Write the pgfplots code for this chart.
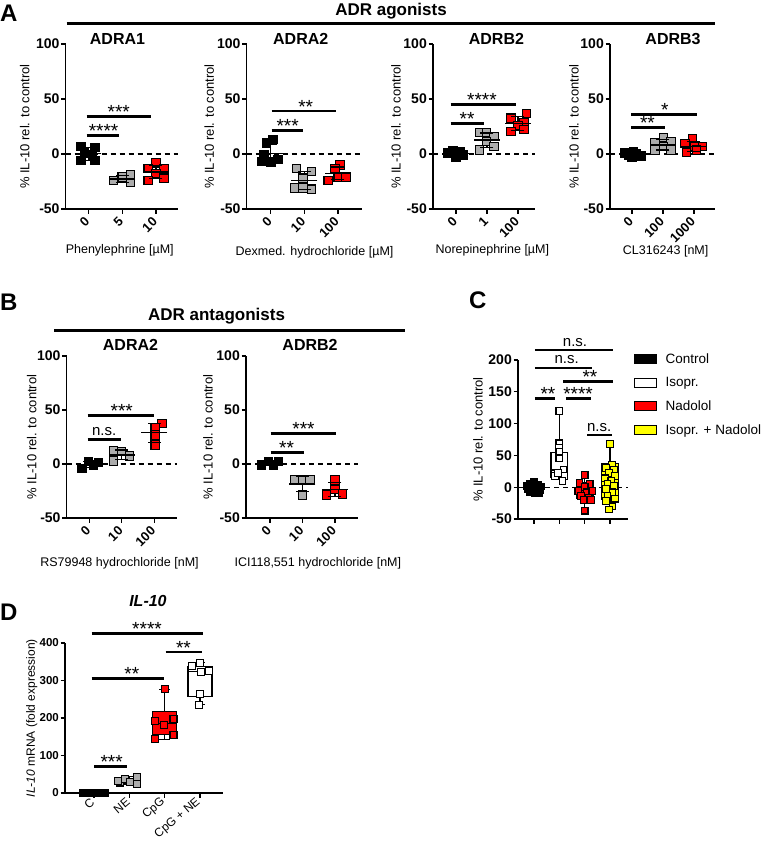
\documentclass[border=0pt]{standalone}
\usepackage{fontspec}
\setmainfont{Liberation Sans}
\usepackage{pgfplots}
\pgfplotsset{compat=1.18}
\usepgfplotslibrary{statistics}
\definecolor{gfill}{RGB}{172,172,172}
\definecolor{rfill}{RGB}{255,0,0}
\definecolor{yfill}{RGB}{255,255,0}
\newcommand{\fs}[1]{\fontsize{#1}{#1}\selectfont}
\newcommand{\sigbar}[5]{%
  \draw[line width=2.8pt] (axis cs:#1,#3) -- (axis cs:#2,#3);
  \node[anchor=base, font=\fs{19}, yshift=-2pt, inner sep=0pt] at (axis cs:#4,#3) {#5};}
\newcommand{\nsbar}[4]{%
  \draw[line width=2.8pt] (axis cs:#1,#3) -- (axis cs:#2,#3);
  \node[anchor=base, font=\fs{15}, yshift=4pt, inner sep=0pt] at (axis cs:#4,#3) {n.s.};}
\pgfplotsset{
  gp/.style={
    scale only axis, clip=false,
    axis lines=left,
    axis line style={-, line width=1.4pt},
    tick style={black, line width=1.3pt},
    tick align=outside, major tick length=4.5pt,
    /pgf/number format/assume math mode=true,
    yticklabel style={font=\fs{14}\bfseries, inner sep=1.5pt},
    ylabel style={font=\fs{13}, anchor=center},
    xlabel style={font=\fs{12.5}, anchor=center},
    title style={font=\fs{16}\bfseries, anchor=center},
  },
  gpA/.style={gp, ymin=-50, ymax=100, ytick={-50,0,50,100}, xtick={0,1,2},
    xticklabel style={font=\fs{13}\bfseries, rotate=45, anchor=east, inner sep=1.5pt},
    xticklabel shift=5pt},
  pts/.style={only marks, mark=square*, mark size=4.2pt, mark options={solid, line width=1.1pt, draw=black, fill=#1}},
  mean/.style={only marks, mark=-, mark size=13pt, mark options={solid, line width=1.5pt, draw=black}},
  sd/.style={black, line width=1.3pt, mark=-, mark size=6.5pt, mark options={solid}},
  zero/.style={black, line width=1.3pt, dash pattern=on 5pt off 4pt},
}
\begin{document}
\begin{tikzpicture}
\path[use as bounding box] (0pt,0pt) rectangle (762pt,-842pt);

% ---------------- Panel A ----------------
\node[anchor=base west, font=\fs{24}\bfseries, inner sep=0pt] at (0pt,-22pt) {A};
\node[anchor=base, font=\fs{17}\bfseries, inner sep=0pt] at (391pt,-16pt) {ADR agonists};
\draw[line width=3pt] (66.7pt,-24pt) -- (715pt,-24pt);

% A1
\begin{axis}[gpA, at={(65.7pt,-209pt)}, width=112.6pt, height=165pt,
  xmin=-0.67, xmax=2.66, xticklabels={0,5,10},
  title={ADRA1}, title style={at={(axis description cs:0.46,1)}, yshift=-1pt},
  xlabel={Phenylephrine [µM]}, xlabel style={at={(axis description cs:0.48,0)}, yshift=-41pt},
  ylabel={\% IL-10 rel. to control}, ylabel style={at={(axis description cs:-0.364,0.5)}}]
\addplot[zero] coordinates {(-0.67,0) (2.66,0)};
\addplot[pts=black] coordinates {(-0.22,7) (0.2,6) (-0.12,1) (0.12,-1) (-0.22,-6) (0.2,-6)};
\addplot[pts=gfill] coordinates {(0.74,-24) (1.0,-21) (1.24,-19) (1.24,-26)};
\addplot[pts=rfill] coordinates {(2.0,-8) (1.77,-13) (2.24,-13) (2.0,-18) (1.77,-24) (2.24,-22)};
\addplot[sd] coordinates {(0,-5.6) (0,6.2)};
\addplot[mean] coordinates {(0,0.3)};
\addplot[sd] coordinates {(1,-25.6) (1,-19.4)};
\addplot[mean] coordinates {(1,-22.5)};
\addplot[sd] coordinates {(2,-22.3) (2,-10.3)};
\addplot[mean] coordinates {(2,-16.3)};
\sigbar{-0.05}{0.9}{17}{0.45}{****}
\sigbar{-0.05}{1.85}{34}{0.9}{***}
\end{axis}

% A2
\begin{axis}[gpA, at={(246.7pt,-209pt)}, width=115pt, height=165pt,
  xmin=-0.72, xmax=2.71, xticklabels={0,10,100},
  title={ADRA2}, title style={at={(axis description cs:0.47,1)}, yshift=-1pt},
  xlabel={Dexmed. hydrochloride [µM]}, xlabel style={at={(axis description cs:0.59,0)}, yshift=-43pt},
  ylabel={\% IL-10 rel. to control}, ylabel style={at={(axis description cs:-0.325,0.5)}}]
\addplot[zero] coordinates {(-0.72,0) (2.71,0)};
\addplot[pts=black] coordinates {(0.07,13) (-0.13,10) (-0.2,-1) (0.22,-5) (-0.28,-7) (0.0,-7.5)};
\addplot[pts=gfill] coordinates {(0.77,-13) (1.21,-16) (0.96,-22) (0.72,-31) (0.96,-31) (1.21,-32)};
\addplot[pts=rfill] coordinates {(2.06,-10) (1.91,-13) (1.71,-24) (2.01,-21) (2.24,-21)};
\addplot[sd] coordinates {(0,-8.1) (0,8.9)};
\addplot[mean] coordinates {(0,0.4)};
\addplot[sd] coordinates {(1,-32.2) (1,-16.2)};
\addplot[mean] coordinates {(1,-24.2)};
\addplot[sd] coordinates {(2,-23.5) (2,-11.9)};
\addplot[mean] coordinates {(2,-17.7)};
\sigbar{0.02}{0.96}{21}{0.5}{***}
\sigbar{0.02}{1.95}{39}{1.04}{**}
\end{axis}

% A3
\begin{axis}[gpA, at={(433pt,-209pt)}, width=102.3pt, height=165pt,
  xmin=-0.74, xmax=2.56, xticklabels={0,1,100},
  title={ADRB2}, title style={at={(axis description cs:0.62,1)}, yshift=-1pt},
  xlabel={Norepinephrine [µM]}, xlabel style={at={(axis description cs:0.58,0)}, yshift=-41pt},
  ylabel={\% IL-10 rel. to control}, ylabel style={at={(axis description cs:-0.363,0.5)}}]
\addplot[zero] coordinates {(-0.74,0) (2.56,0)};
\addplot[pts=black] coordinates {(-0.25,1) (-0.1,3) (0.05,0) (0.15,2) (0.25,-1) (0,-3)};
\addplot[pts=gfill] coordinates {(0.76,19.4) (0.98,19.4) (1.23,15.7) (0.98,11.2) (1.23,6.6) (0.76,3.6)};
\addplot[pts=rfill] coordinates {(2.27,37) (1.78,32.5) (2.2,28.5) (2.0,26) (2.2,22.4) (1.78,20.3)};
\addplot[sd] coordinates {(0,-1.9) (0,2.5)};
\addplot[mean] coordinates {(0,0.3)};
\addplot[sd] coordinates {(1,6) (1,19.2)};
\addplot[mean] coordinates {(1,12.6)};
\addplot[sd] coordinates {(2,21.5) (2,34.1)};
\addplot[mean] coordinates {(2,27.8)};
\sigbar{-0.17}{0.9}{28}{0.36}{**}
\sigbar{-0.17}{1.95}{45}{0.84}{****}
\end{axis}

% A4
\begin{axis}[gpA, at={(610pt,-209pt)}, width=105pt, height=165pt,
  xmin=-0.71, xmax=2.68, xticklabels={0,100,1000},
  title={ADRB3}, title style={at={(axis description cs:0.6,1)}, yshift=-1pt},
  xlabel={CL316243 [nM]}, xlabel style={at={(axis description cs:0.53,0)}, yshift=-42pt},
  ylabel={\% IL-10 rel. to control}, ylabel style={at={(axis description cs:-0.343,0.5)}}]
\addplot[zero] coordinates {(-0.71,0) (2.68,0)};
\addplot[pts=black] coordinates {(-0.25,1) (-0.1,-1) (0.05,2) (0.15,0) (0.3,-2) (0,-3)};
\addplot[pts=gfill] coordinates {(0.74,10.3) (1.01,15.2) (1.26,11.2) (1.01,6.6) (0.74,3.6) (1.26,3.6)};
\addplot[pts=rfill] coordinates {(1.95,14.3) (1.71,9.7) (2.01,6.6) (2.27,6.6) (1.76,1.2) (2.09,3.6)};
\addplot[sd] coordinates {(0,-2.4) (0,1.4)};
\addplot[mean] coordinates {(0,-0.5)};
\addplot[sd] coordinates {(1,3.7) (1,13.1)};
\addplot[mean] coordinates {(1,8.4)};
\addplot[sd] coordinates {(2,2.4) (2,11.6)};
\addplot[mean] coordinates {(2,7)};
\sigbar{-0.03}{1.06}{24}{0.5}{**}
\sigbar{-0.03}{2.09}{36}{1.06}{*}
\end{axis}

% ---------------- Panel B ----------------
\node[anchor=base west, font=\fs{24}\bfseries, inner sep=0pt] at (0pt,-310pt) {B};
\node[anchor=base, font=\fs{17}\bfseries, inner sep=0pt] at (216.5pt,-320pt) {ADR antagonists};
\draw[line width=3pt] (54.3pt,-330pt) -- (405pt,-330pt);

% B1
\begin{axis}[gpA, at={(66.7pt,-518pt)}, width=110pt, height=162pt,
  xmin=-0.69, xmax=2.69, xticklabels={0,10,100},
  title={ADRA2}, title style={at={(axis description cs:0.58,1)}, yshift=5.5pt},
  xlabel={RS79948 hydrochloride [nM]}, xlabel style={at={(axis description cs:0.48,0)}, yshift=-45pt},
  ylabel={\% IL-10 rel. to control}, ylabel style={at={(axis description cs:-0.318,0.5)}}]
\addplot[zero] coordinates {(-0.69,0) (2.69,0)};
\addplot[pts=black] coordinates {(-0.22,-4) (-0.02,2.1) (0.13,-0.9) (0.29,1.2)};
\addplot[pts=gfill] coordinates {(0.75,12.3) (1.0,11.4) (1.24,7.4) (0.75,2.8)};
\addplot[pts=rfill] coordinates {(2.24,37.7) (2.03,34) (2.03,26.9) (2.03,17.6)};
\addplot[sd] coordinates {(0,-3) (0,2.2)};
\addplot[mean] coordinates {(0,-0.4)};
\addplot[sd] coordinates {(1,4.1) (1,12.9)};
\addplot[mean] coordinates {(1,8.5)};
\addplot[sd] coordinates {(2,20.2) (2,37.8)};
\addplot[mean] coordinates {(2,29)};
\nsbar{-0.05}{0.98}{22.8}{0.46}
\sigbar{-0.05}{1.98}{44.7}{1.0}{***}
\end{axis}

% B2
\begin{axis}[gpA, at={(246pt,-518pt)}, width=112.3pt, height=162pt,
  xmin=-0.74, xmax=2.72, xticklabels={0,10,100},
  title={ADRB2}, title style={at={(axis description cs:0.57,1)}, yshift=5.5pt},
  xlabel={ICI118,551 hydrochloride [nM]}, xlabel style={at={(axis description cs:0.64,0)}, yshift=-45pt},
  ylabel={\% IL-10 rel. to control}, ylabel style={at={(axis description cs:-0.338,0.5)}}]
\addplot[zero] coordinates {(-0.74,0) (2.72,0)};
\addplot[pts=black] coordinates {(-0.26,-0.9) (-0.05,2.1) (0.1,-0.9) (0.26,2.1)};
\addplot[pts=gfill] coordinates {(0.77,-14.8) (1.0,-14.8) (1.23,-14.8) (1.0,-28.7)};
\addplot[pts=rfill] coordinates {(2.0,-14.8) (2.0,-23.4) (1.74,-28.7) (2.24,-27.8)};
\addplot[sd] coordinates {(0,-1.1) (0,2.3)};
\addplot[mean] coordinates {(0,0.6)};
\addplot[sd] coordinates {(1,-25.3) (1,-11.3)};
\addplot[mean] coordinates {(1,-18.3)};
\addplot[sd] coordinates {(2,-30.1) (2,-17.3)};
\addplot[mean] coordinates {(2,-23.7)};
\sigbar{0.02}{1.05}{10.5}{0.51}{**}
\sigbar{0.02}{2.03}{28.4}{1.03}{***}
\end{axis}

% ---------------- Panel C ----------------
\node[anchor=base west, font=\fs{24}\bfseries, inner sep=0pt] at (469pt,-308pt) {C};
\begin{axis}[gp, at={(518pt,-519pt)}, width=110pt, height=159pt,
  xmin=-0.63, xmax=3.71, ymin=-50, ymax=200, ytick={-50,0,50,100,150,200},
  xtick={0,1,2,3}, xticklabels={},
  boxplot/draw direction=y,
  ylabel={\% IL-10 rel. to control}, ylabel style={at={(axis description cs:-0.364,0.5)}},
  legend image code/.code={\draw[#1] (0pt,-4.5pt) rectangle (22pt,4.5pt);},
  legend style={at={(axis description cs:1.05,1.054)}, anchor=north west, draw=none, fill=none,
    font=\fs{13.5}, inner sep=0pt, row sep=8.5pt, column sep=7pt},
  legend cell align=left]
\addlegendimage{draw=black, fill=black, line width=1pt}
\addlegendentry{Control}
\addlegendimage{draw=black, fill=white, line width=1pt}
\addlegendentry{Isopr.}
\addlegendimage{draw=black, fill=rfill, line width=1pt}
\addlegendentry{Nadolol}
\addlegendimage{draw=black, fill=yfill, line width=1pt}
\addlegendentry{Isopr. + Nadolol}
\addplot[zero] coordinates {(-0.63,0) (3.71,0)};
\addplot[boxplot prepared={draw position=0, lower whisker=-10, lower quartile=-4, median=0, upper quartile=4, upper whisker=8, box extend=0.66, whisker extend=0}, draw=black, fill=black, line width=1.1pt] coordinates {};
\addplot[boxplot prepared={draw position=1, lower whisker=10, lower quartile=16, median=27, upper quartile=54, upper whisker=120, box extend=0.66, whisker extend=0}, draw=black, fill=white, line width=1.1pt] coordinates {};
\addplot[boxplot prepared={draw position=2, lower whisker=-37, lower quartile=-18, median=-8, upper quartile=7, upper whisker=19, box extend=0.66, whisker extend=0}, draw=black, fill=rfill, line width=1.1pt] coordinates {};
\addplot[boxplot prepared={draw position=3, lower whisker=-37, lower quartile=-20, median=3, upper quartile=37, upper whisker=68, box extend=0.66, whisker extend=0}, draw=black, fill=yfill, line width=1.1pt] coordinates {};
\addplot[pts=black, mark size=3.3pt] coordinates {(-0.3,2) (-0.15,5) (0,8) (0.15,4) (0.3,1) (-0.25,-3) (-0.1,-1) (0.1,-2) (0.25,-4) (-0.15,-7) (0.05,-9) (0.2,-10) (0,0)};
\addplot[pts=white, mark size=3.3pt] coordinates {(1.0,120) (1.0,69) (0.98,62) (1.0,56) (1.0,45) (1.17,27) (0.82,18) (1.2,18) (1.12,10) (0.95,22)};
\addplot[pts=rfill, mark size=3.3pt] coordinates {(2.0,19) (1.8,7) (2.2,5) (2.0,0) (1.75,-6) (2.1,-8) (2.3,-6) (1.85,-14) (2.15,-16) (1.95,-20) (2.25,-20) (2.0,-37)};
\addplot[pts=yfill, mark size=3.3pt] coordinates {(3.0,68) (3.08,35) (2.85,30) (3.15,28) (2.95,22) (3.2,18) (2.8,14) (3.05,10) (2.9,5) (3.15,2) (2.85,-3) (3.1,-8) (2.9,-14) (3.2,-18) (2.85,-22) (3.1,-30) (2.95,-35)};
\nsbar{0.04}{3.12}{215.6}{1.62}
\nsbar{0.04}{2.3}{187.5}{1.29}
\sigbar{1.15}{3.12}{165.6}{2.21}{**}
\sigbar{0.04}{0.83}{139}{0.55}{**}
\sigbar{1.26}{2.25}{139}{1.74}{****}
\nsbar{2.1}{3.08}{82}{2.57}
\end{axis}

% ---------------- Panel D ----------------
\node[anchor=base west, font=\fs{24}\bfseries, inner sep=0pt] at (0pt,-620pt) {D};
\begin{axis}[gp, at={(65pt,-793pt)}, width=158pt, height=150pt,
  xmin=-0.82, xmax=3.65, ymin=0, ymax=400, ytick={0,100,200,300,400},
  xtick={0,1,2,3}, xticklabels={C,NE,CpG,CpG + NE},
  xticklabel style={font=\fs{12}, rotate=40, anchor=east, inner sep=1.5pt},
  xticklabel shift=2pt,
  yticklabel style={font=\fs{11.5}\bfseries},
  boxplot/draw direction=y,
  title={\textit{IL-10}}, title style={at={(axis description cs:0.525,1)}, yshift=36pt},
  ylabel={\textit{IL-10} mRNA (fold expression)}, ylabel style={font=\fs{12}, at={(axis description cs:-0.21,0.5)}}]
\addplot[boxplot prepared={draw position=1, lower whisker=24, lower quartile=28, median=32, upper quartile=38, upper whisker=43, box extend=0.6, whisker extend=0.3}, draw=black, fill=gfill, line width=1.1pt] coordinates {};
\addplot[boxplot prepared={draw position=2, lower whisker=143, lower quartile=155, median=185, upper quartile=217, upper whisker=277, box extend=0.68, whisker extend=0.3}, draw=black, fill=rfill, line width=1.1pt] coordinates {};
\addplot[boxplot prepared={draw position=3, lower whisker=235, lower quartile=257, median=325, upper quartile=337, upper whisker=347, box extend=0.68, whisker extend=0.3}, draw=black, fill=white, line width=1.1pt] coordinates {};
\addplot[pts=black, mark size=3.5pt] coordinates {(-0.3,1) (-0.2,1) (-0.1,1) (0,1) (0.1,1) (0.2,1) (0.3,1)};
\addplot[pts=gfill, mark size=3.5pt] coordinates {(0.74,28) (0.69,32) (0.88,37) (1.02,30) (1.21,43) (1.21,24)};
\addplot[pts=rfill, mark size=3.5pt] coordinates {(2.01,277) (1.73,193) (2.25,197) (1.99,181) (1.73,143) (2.25,155)};
\addplot[pts=white, mark size=3.5pt] coordinates {(2.77,339) (3.0,347) (3.02,323) (3.26,326) (3.0,263) (2.97,235)};
\sigbar{-0.07}{3.07}{426}{1.5}{****}
\sigbar{2.03}{3.05}{376}{2.53}{**}
\sigbar{-0.07}{1.99}{306}{1.07}{**}
\sigbar{0.01}{0.93}{70}{0.5}{***}
\end{axis}
\end{tikzpicture}
\end{document}
